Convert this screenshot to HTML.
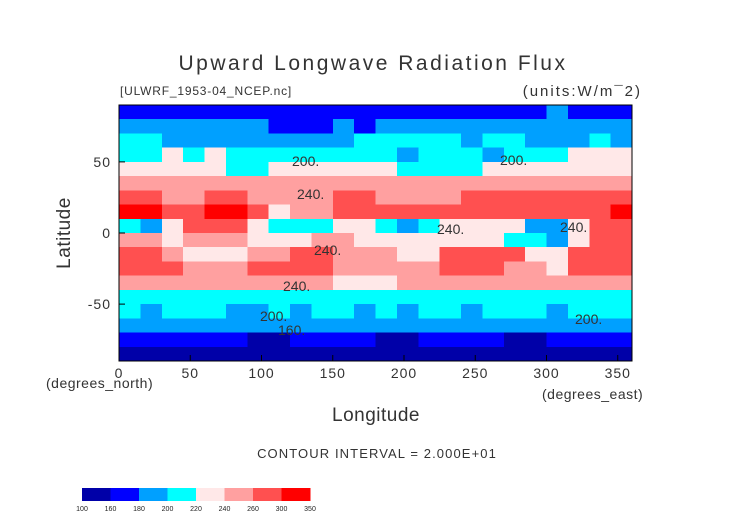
<!DOCTYPE html>
<html><head><meta charset="utf-8"><style>
body{margin:0;background:#fff;width:752px;height:532px;overflow:hidden}
svg{display:block;font-family:"Liberation Sans",sans-serif}
</style></head><body>
<svg width="752" height="532">
<text x="373" y="70" text-anchor="middle" font-size="21" fill="#333" letter-spacing="2.5">Upward Longwave Radiation Flux</text>
<text x="120" y="95" font-size="12" fill="#333" letter-spacing="0.8">[ULWRF_1953-04_NCEP.nc]</text>
<text x="642" y="96" text-anchor="end" font-size="15" fill="#333" letter-spacing="2">(units:W/m¯2)</text>
<g id="map"></g>
<rect x="119" y="105" width="513" height="256" fill="none" stroke="#000"/>
<g id="axes"></g>
<g font-size="14" fill="#333">
<text x="292" y="166">200.</text><text x="500" y="165">200.</text>
<text x="297" y="199">240.</text><text x="437" y="234">240.</text><text x="560" y="232">240.</text>
<text x="314" y="255">240.</text><text x="283" y="291">240.</text>
<text x="260" y="321">200.</text><text x="575" y="324">200.</text><text x="278" y="335">160.</text>
</g>
<text x="46" y="388" font-size="14" fill="#333" letter-spacing="0.5">(degrees_north)</text>
<text x="542" y="399" font-size="14" fill="#333" letter-spacing="0.5">(degrees_east)</text>
<text x="376" y="421" text-anchor="middle" font-size="19" fill="#333" letter-spacing="0.5">Longitude</text>
<text x="70" y="233" text-anchor="middle" font-size="19" fill="#333" letter-spacing="0.5" transform="rotate(-90 70 233)">Latitude</text>
<text x="377" y="458" text-anchor="middle" font-size="13" fill="#333" letter-spacing="1.1">CONTOUR INTERVAL = 2.000E+01</text>
<g id="cbar"></g>
</svg>
<script>
const levels=[100,160,180,200,220,240,260,300,350];
const colors=["#0000a8","#0000ff","#00a0ff","#00ffff","#ffe8e8","#ffa0a0","#ff5050","#ff0000"];
const lats=[85,75,65,55,45,35,25,15,5,-5,-15,-25,-35,-45,-55,-65,-75,-85];
const xTicks=[0,50,100,150,200,250,300,350];
const yTicks=[50,0,-50];
const grid=[
[170,170,170,170,170,170,170,170,170,170,170,170,170,170,170,170,170,170,170,170,190,170,170,170],
[190,190,190,190,190,190,190,170,170,170,190,170,190,190,190,190,190,190,190,190,190,190,190,190],
[210,210,190,190,190,190,190,190,190,190,190,210,210,210,210,210,190,210,210,190,190,190,210,190],
[210,210,230,210,230,210,210,210,210,210,210,210,210,190,210,210,210,190,210,210,210,230,230,230],
[230,230,230,230,230,210,210,230,230,230,230,230,230,210,210,210,210,230,230,230,230,230,230,230],
[250,250,250,250,250,250,250,250,250,250,250,250,250,250,250,250,250,250,250,250,250,250,250,250],
[270,270,250,250,270,270,250,250,250,250,270,270,250,250,250,250,270,270,270,270,270,270,270,270],
[310,310,270,270,310,310,270,230,250,250,270,270,270,270,270,270,270,270,270,270,270,270,270,300],
[210,190,230,270,270,270,230,210,210,210,230,230,210,190,210,230,230,230,230,190,190,230,270,270],
[250,250,230,250,250,250,230,230,230,250,250,230,230,230,230,230,230,230,210,210,190,230,270,270],
[270,270,250,230,230,230,250,250,270,270,250,250,250,230,230,270,270,270,270,230,230,270,270,270],
[270,270,270,250,250,250,270,270,270,270,250,250,250,250,250,270,270,270,250,250,230,270,270,270],
[250,250,250,250,250,250,250,250,250,250,230,230,230,250,250,250,250,250,250,250,250,250,250,250],
[210,210,210,210,210,210,210,210,210,210,210,210,210,210,210,210,210,210,210,210,210,210,210,210],
[210,190,210,210,210,190,190,210,190,210,210,190,210,190,210,210,190,210,210,210,190,210,210,210],
[190,190,190,190,190,190,190,190,190,190,190,190,190,190,190,190,190,190,190,190,190,190,190,190],
[170,170,170,170,170,170,150,150,170,170,170,170,150,150,170,170,170,170,150,150,170,170,170,170],
[150,150,150,150,150,150,150,150,150,150,150,150,150,150,150,150,150,150,150,150,150,150,150,150]];
const NS="http://www.w3.org/2000/svg";
const X0=119,X1=632,Y0=105,Y1=361;
const xs=l=>X0+(l/360)*(X1-X0);
const ys=l=>Y0+((90-l)/180)*(Y1-Y0);
function col(v){for(let i=0;i<levels.length-1;i++){if(v<levels[i+1])return colors[i];}return colors[colors.length-1];}
function mk(t,a,p){const e=document.createElementNS(NS,t);for(const k in a)e.setAttribute(k,a[k]);p.appendChild(e);return e;}
const map=document.getElementById('map');
const dLon=360/grid[0].length;
grid.forEach((row,j)=>{row.forEach((v,i)=>{
const r=mk('rect',{x:xs(i*dLon),y:ys(lats[j]+5),width:xs(dLon)-X0+0.5,height:ys(lats[j]-5)-ys(lats[j]+5)+0.5,fill:col(v),'shape-rendering':'crispEdges'},map);


});});
const ax=document.getElementById('axes');
xTicks.forEach(t=>{
const tk=mk('line',{x1:xs(t),x2:xs(t),y1:Y1,y2:Y1-6,stroke:'#000'},ax);


const tx=mk('text',{x:xs(t),y:Y1+17,'text-anchor':'middle','font-size':14,fill:'#333','letter-spacing':1},ax);
tx.textContent=t;


});
yTicks.forEach(t=>{
const tk=mk('line',{x1:X0,x2:X0+6,y1:ys(t),y2:ys(t),stroke:'#000'},ax);


const tx=mk('text',{x:X0-8,y:ys(t)+5,'text-anchor':'end','font-size':14,fill:'#333','letter-spacing':1},ax);
tx.textContent=t;


});
const cb=document.getElementById('cbar');
const cbX=82,cbW=228/8;
colors.forEach((c,i)=>{
const r=mk('rect',{x:cbX+i*cbW,y:488,width:cbW+0.3,height:13,fill:c,'shape-rendering':'crispEdges'},cb);


});
levels.forEach((l,i)=>{
const tx=mk('text',{x:cbX+i*cbW,y:511,'text-anchor':'middle','font-size':7,fill:'#222'},cb);
tx.textContent=l;


});
</script>
</body></html>
